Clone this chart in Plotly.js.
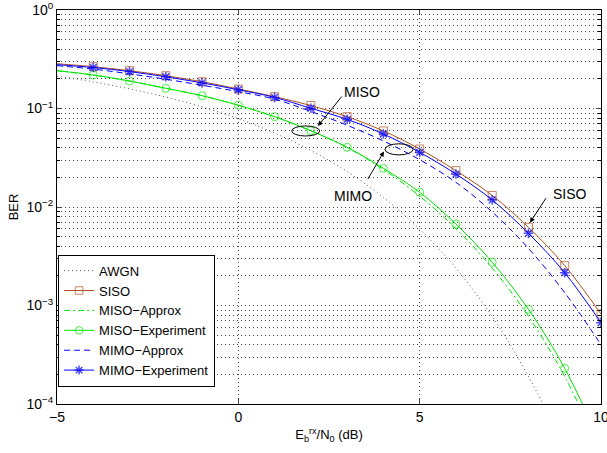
<!DOCTYPE html>
<html><head><meta charset="utf-8">
<script src="https://cdn.plot.ly/plotly-3.0.1.min.js"></script>
<style>html,body{margin:0;padding:0;background:#fff}#chart{width:607px;height:453px}</style>
</head><body><div id="chart"></div>
<script>
// Eb/N0 (dB)
const snr = [-5,-4,-3,-2,-1,0,1,2,3,4,5,6,7,8,9,10];
// BER values
const berAWGN = [0.2132,0.1861,0.1584,0.1306,0.1038,0.0786,0.0563,0.0375,0.0229,0.0125,0.00595,0.00239,0.000773,0.000191,0.0000336,0.00000387];
const berSISO = [0.285,0.2655,0.242,0.2153,0.187,0.1578,0.1318,0.1072,0.0826,0.0592,0.0388,0.0234,0.0131,0.00622,0.00254,0.00082];
const berMISOApprox = [0.242,0.2188,0.1901,0.1603,0.1349,0.1079,0.0826,0.0594,0.0402,0.024,0.0129,0.00603,0.0024,0.000776,0.00019,0.0000316];
const berMISOExp = [0.242,0.2188,0.1901,0.1603,0.1349,0.1079,0.0826,0.0594,0.0404,0.0247,0.0141,0.00671,0.00275,0.000914,0.00023,0.0000389];
const berMIMOApprox = [0.2723,0.2512,0.2249,0.1982,0.1722,0.1483,0.1245,0.0933,0.0676,0.0468,0.0302,0.0178,0.0089,0.0038,0.00135,0.0004];
const berMIMOExp = [0.2786,0.2606,0.2371,0.2099,0.182,0.155,0.1297,0.1005,0.0776,0.0551,0.0359,0.0216,0.01178,0.0054,0.00215,0.000668];

const seriesNames = ['AWGN','SISO','MISO−Approx','MISO−Experiment','MIMO−Approx','MIMO−Experiment'];

const xTickVals = [-5,0,5,10];
const xTickText = ['−5','0','5','10'];
const yTickVals = [1,0.1,0.01,0.001,0.0001];
const yTickText = ['10<sup>0</sup>','10<sup>−1</sup>','10<sup>−2</sup>','10<sup>−3</sup>','10<sup>−4</sup>'];

const FONT = 'Liberation Sans, Arial, Helvetica, sans-serif';
const brown = '#B0501E', green = '#00E600', blue = '#0000FF';
const msize = snr.map((v,i) => i === 0 ? 0 : 8);

const traces = [
  {x: snr, y: berAWGN, name: seriesNames[0], mode: 'lines', line: {color: '#555', width: 1, dash: '1px,3px', shape: 'spline'}},
  {x: snr, y: berSISO, name: seriesNames[1], mode: 'lines+markers', line: {color: brown, width: 1, shape: 'spline'},
   marker: {symbol: 'square-open', size: msize, color: brown, line: {width: 1, color: brown}}},
  {x: snr, y: berMISOApprox, name: seriesNames[2], mode: 'lines', line: {color: green, width: 1, dash: '6px,3px,2px,3px', shape: 'spline'}},
  {x: snr, y: berMISOExp, name: seriesNames[3], mode: 'lines+markers', line: {color: green, width: 1, shape: 'spline'},
   marker: {symbol: 'circle-open', size: msize, color: green, line: {width: 1, color: green}}},
  {x: snr, y: berMIMOApprox, name: seriesNames[4], mode: 'lines', line: {color: blue, width: 1, dash: '6px,4px', shape: 'spline'}},
  {x: snr, y: berMIMOExp, name: seriesNames[5], mode: 'lines+markers', line: {color: blue, width: 1, shape: 'spline'},
   marker: {symbol: 'asterisk-open', size: msize, color: blue, line: {width: 1.5, color: blue}}}
];

const gridDash = '1px,3px', gridColor = '#444';
const annFont = {family: FONT, size: 14, color: '#000'};
const arrow = {showarrow: true, arrowhead: 2, arrowsize: 1, arrowwidth: 1, arrowcolor: '#000', text: '', axref: 'pixel', ayref: 'pixel'};

const layout = {
  width: 607, height: 453,
  margin: {l: 57, r: 6, t: 10, b: 49},
  paper_bgcolor: '#fff', plot_bgcolor: '#fff',
  font: {family: FONT, size: 14, color: '#000'},
  showlegend: true,
  legend: {x: 0.002, y: 0.044, xanchor: 'left', yanchor: 'bottom', bgcolor: '#fff', bordercolor: '#000', borderwidth: 1,
           font: {family: FONT, size: 13, color: '#000'}},
  xaxis: {range: [-5, 10], tickmode: 'array', tickvals: xTickVals, ticktext: xTickText, ticks: 'inside', ticklen: 5,
          ticklabeloverflow: 'allow',
          showline: true, linecolor: '#000', linewidth: 1, mirror: 'ticks', zeroline: false,
          showgrid: true, gridcolor: gridColor, griddash: gridDash, gridwidth: 1,
          tickfont: {family: FONT, size: 14},
          title: {text: 'E<sub>b</sub><sup>rx</sup>/N<sub>0</sub> (dB)', font: {family: FONT, size: 13}, standoff: 6}},
  yaxis: {type: 'log', range: [-4, 0], tickmode: 'array', tickvals: yTickVals, ticktext: yTickText, ticks: 'inside', ticklen: 5,
          showline: true, linecolor: '#000', linewidth: 1, mirror: 'ticks',
          showgrid: true, gridcolor: gridColor, griddash: gridDash, gridwidth: 1,
          minor: {dtick: 'D1', ticks: 'inside', ticklen: 3, tickcolor: '#000', showgrid: true, gridcolor: gridColor, griddash: gridDash, gridwidth: 1},
          tickfont: {family: FONT, size: 14},
          title: {text: 'BER', font: {family: FONT, size: 13}, standoff: 4}},
  annotations: [
    Object.assign({}, arrow, {x: 2.196, y: -1.178, ax: 25, ay: -31}),
    {x: 3.41, y: -0.832, text: 'MISO', showarrow: false, font: annFont},
    Object.assign({}, arrow, {x: 4.016, y: -1.437, ax: -17, ay: 29}),
    {x: 3.161, y: -1.888, text: 'MIMO', showarrow: false, font: annFont},
    Object.assign({}, arrow, {x: 8.04, y: -2.159, ax: 17, ay: -26}),
    {x: 9.144, y: -1.868, text: 'SISO', showarrow: false, font: annFont}
  ],
  shapes: [
    {type: 'circle', xref: 'x', yref: 'y', xsizemode: 'pixel', xanchor: 1.857,
     x0: -14, x1: 14, y0: 0.0526, y1: 0.0665, line: {color: '#000', width: 1}},
    {type: 'circle', xref: 'x', yref: 'y', xsizemode: 'pixel', xanchor: 4.43,
     x0: -14, x1: 14, y0: 0.0338, y1: 0.0438, line: {color: '#000', width: 1}}
  ]
};

Plotly.newPlot('chart', traces, layout, {staticPlot: true, displayModeBar: false});
</script>
</body></html>
